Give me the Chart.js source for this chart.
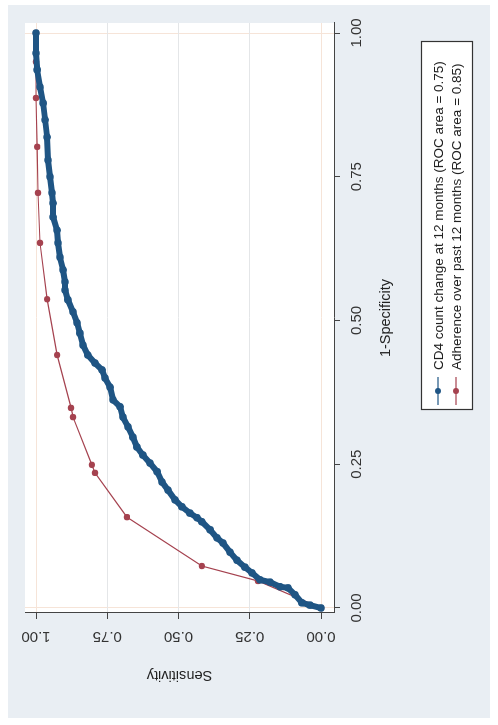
<!DOCTYPE html>
<html>
<head>
<meta charset="utf-8">
<script src="https://cdn.jsdelivr.net/npm/chart.js@4.4.1/dist/chart.umd.min.js"></script>
<style>
  html, body { margin: 0; padding: 0; background: #fff; overflow: hidden; }
  /* the figure is printed turned a quarter turn counter-clockwise */
  #wrap {
    position: absolute; left: 0; top: 0; width: 725px; height: 498px;
    transform-origin: 0 0; transform: translate(0, 725px) rotate(-90deg);
  }
</style>
</head>
<body>
<div id="wrap"><canvas id="roc" width="725" height="498"></canvas></div>
<script>
const specTicks = [0, 0.25, 0.5, 0.75, 1];
const sensTicks = [0, 0.25, 0.5, 0.75, 1];

const seriesNames = [
  "CD4 count change at 12 months (ROC area = 0.75)",
  "Adherence over past 12 months (ROC area = 0.85)",
];

// CD4 count change: 1-specificity / sensitivity
const cd4Spec = [0, 0.005, 0.009, 0.023, 0.035, 0.037, 0.045, 0.049, 0.061, 0.071,
  0.083, 0.097, 0.113, 0.122, 0.136, 0.150, 0.157, 0.165, 0.176, 0.188,
  0.205, 0.219, 0.237, 0.252, 0.266, 0.280, 0.297, 0.315, 0.332, 0.350,
  0.362, 0.384, 0.400, 0.414, 0.426, 0.440, 0.457, 0.478, 0.496, 0.515,
  0.536, 0.553, 0.567, 0.588, 0.610, 0.635, 0.657, 0.680, 0.704, 0.722,
  0.750, 0.779, 0.819, 0.849, 0.878, 0.906, 0.936, 0.965, 1];
const cd4Sens = [0, 0.039, 0.067, 0.091, 0.116, 0.144, 0.179, 0.214, 0.242, 0.267,
  0.295, 0.319, 0.344, 0.365, 0.389, 0.418, 0.435, 0.460, 0.488, 0.512,
  0.537, 0.558, 0.575, 0.600, 0.625, 0.646, 0.660, 0.677, 0.695, 0.705,
  0.730, 0.740, 0.758, 0.768, 0.793, 0.818, 0.835, 0.846, 0.856, 0.870,
  0.888, 0.898, 0.898, 0.905, 0.916, 0.923, 0.926, 0.940, 0.940, 0.944,
  0.951, 0.958, 0.961, 0.968, 0.975, 0.986, 0.996, 1, 1];

// Adherence over past 12 months
const adhSpec = [0, 0.047, 0.073, 0.158, 0.235, 0.249, 0.332, 0.348, 0.440, 0.537,
  0.635, 0.722, 0.802, 0.887, 0.950, 1];
const adhSens = [0, 0.221, 0.418, 0.681, 0.793, 0.804, 0.870, 0.877, 0.926, 0.961,
  0.986, 0.993, 0.996, 1, 1, 1];

const blue = "#1f5584";
const red = "#a5424f";
const font = "Liberation Sans, Arial, sans-serif";

Chart.defaults.font.family = font;

const toPoints = (xs, ys) => xs.map((x, i) => ({ x: x, y: ys[i] }));
const edgeColor = (ctx) =>
  ctx.tick && (ctx.tick.value === 0 || ctx.tick.value === 1) ? "#f6e4d8" : "rgba(0,0,0,0)";

const backdrop = {
  id: "backdrop",
  beforeDraw(chart) {
    const { ctx, chartArea } = chart;
    ctx.save();
    ctx.fillStyle = "#ffffff";
    ctx.fillRect(0, 0, chart.width, chart.height);
    ctx.fillStyle = "#e9eef3";
    ctx.fillRect(7, 8, 713, 482);
    ctx.fillStyle = "#ffffff";
    ctx.fillRect(chartArea.left, chartArea.top, chartArea.right - chartArea.left, chartArea.bottom - chartArea.top);
    ctx.restore();
  },
};

// Stata prints the y labels turned, so they are drawn here from the y scale
const sensLabels = {
  id: "sensLabels",
  afterDraw(chart) {
    const { ctx } = chart;
    const y = chart.scales.y;
    ctx.save();
    ctx.font = "15px " + font;
    ctx.fillStyle = "#333";
    ctx.textAlign = "center";
    ctx.textBaseline = "middle";
    sensTicks.forEach((v) => {
      ctx.save();
      ctx.translate(89, y.getPixelForValue(v));
      ctx.rotate(-Math.PI / 2);
      ctx.fillText(v.toFixed(2), 0, 0);
      ctx.restore();
    });
    ctx.restore();
  },
};

const boxLegend = {
  id: "boxLegend",
  afterDraw(chart) {
    const { ctx } = chart;
    const box = { left: 315, top: 421, right: 683, bottom: 472 };
    ctx.save();
    ctx.fillStyle = "#ffffff";
    ctx.fillRect(box.left, box.top, box.right - box.left, box.bottom - box.top);
    ctx.strokeStyle = "#333";
    ctx.lineWidth = 1.2;
    ctx.strokeRect(box.left + 0.5, box.top + 0.5, box.right - box.left, box.bottom - box.top);
    chart.data.datasets.forEach((ds, i) => {
      const rowY = 438 + i * 18;
      ctx.strokeStyle = ds.borderColor;
      ctx.lineWidth = 1.2;
      ctx.beginPath();
      ctx.moveTo(320, rowY);
      ctx.lineTo(348, rowY);
      ctx.stroke();
      ctx.fillStyle = ds.pointBackgroundColor;
      ctx.beginPath();
      ctx.arc(334, rowY, 3, 0, Math.PI * 2);
      ctx.fill();
      ctx.fillStyle = "#222";
      ctx.font = "13.5px " + font;
      ctx.textBaseline = "middle";
      ctx.fillText(ds.label, 355, rowY + 1);
    });
    ctx.restore();
  },
};

new Chart(document.getElementById("roc").getContext("2d"), {
  type: "scatter",
  data: {
    datasets: [
      {
        label: seriesNames[0],
        data: toPoints(cd4Spec, cd4Sens),
        showLine: true,
        borderColor: blue,
        borderWidth: 6,
        pointBackgroundColor: blue,
        pointBorderColor: blue,
        pointRadius: 3.8,
        pointBorderWidth: 0,
      },
      {
        label: seriesNames[1],
        data: toPoints(adhSpec, adhSens),
        showLine: true,
        borderColor: red,
        borderWidth: 1.2,
        pointBackgroundColor: red,
        pointBorderColor: red,
        pointRadius: 3.2,
        pointBorderWidth: 0,
      },
    ],
  },
  options: {
    responsive: false,
    animation: false,
    layout: { padding: { left: 38, top: 25, right: 23, bottom: 100 } },
    plugins: { legend: { display: false }, tooltip: { enabled: false } },
    scales: {
      x: {
        type: "linear",
        min: -0.0087,
        max: 1.0174,
        afterBuildTicks: (s) => { s.ticks = specTicks.map((v) => ({ value: v })); },
        afterFit: (s) => { s.height = 64; },
        ticks: {
          autoSkip: false,
          maxRotation: 0,
          padding: 8,
          color: "#333",
          font: { size: 15 },
          callback: (v) => Number(v).toFixed(2),
        },
        grid: { color: edgeColor, tickColor: "#444", tickLength: 6 },
        border: { display: true, color: "#444", width: 1 },
        title: {
          display: true,
          text: "1-Specificity",
          color: "#222",
          font: { size: 14.5 },
          padding: { top: 0, bottom: 3 },
        },
      },
      y: {
        type: "linear",
        min: -0.0456,
        max: 1.0386,
        afterBuildTicks: (s) => { s.ticks = sensTicks.map((v) => ({ value: v })); },
        afterFit: (s) => { s.width = 74; },
        ticks: { display: false },
        grid: {
          color: (ctx) =>
            ctx.tick && (ctx.tick.value === 0 || ctx.tick.value === 1) ? "#f6e4d8" : "#e4e6e8",
          tickColor: "#444",
          tickLength: 6,
        },
        border: { display: true, color: "#444", width: 1 },
        title: {
          display: true,
          text: "Sensitivity",
          color: "#222",
          font: { size: 14.5 },
          padding: { top: 3, bottom: 0 },
        },
      },
    },
  },
  plugins: [backdrop, sensLabels, boxLegend],
});
</script>
</body>
</html>
